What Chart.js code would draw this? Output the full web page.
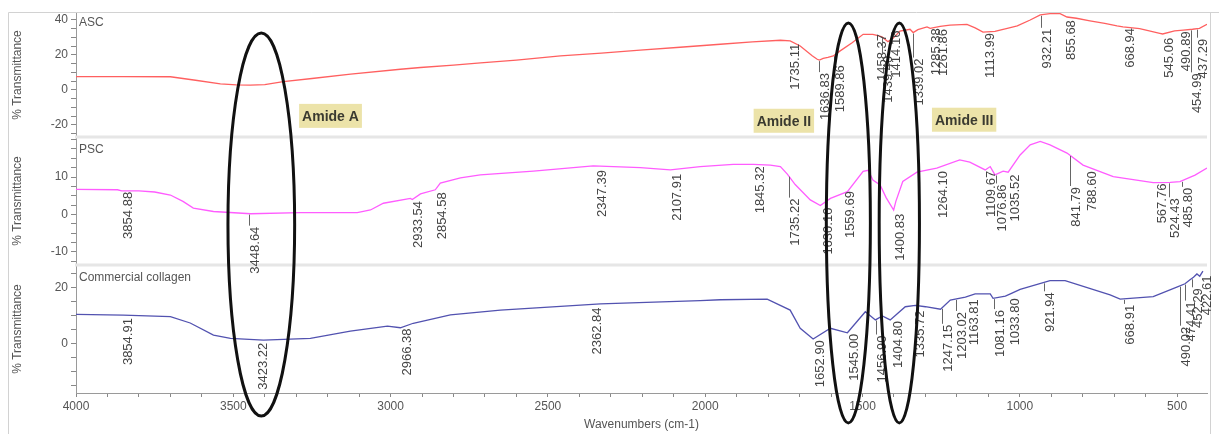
<!DOCTYPE html>
<html>
<head>
<meta charset="utf-8">
<script src="https://cdn.jsdelivr.net/npm/chart.js"></script>
<style>
  html, body { margin: 0; padding: 0; background: #fff; }
</style>
</head>
<body>
<canvas id="espectro" width="1219" height="434"></canvas>
<script>
// ASC
var ascOnda = [4000, 3850, 3700, 3620, 3541, 3490, 3446, 3400, 3341, 3250, 3127, 2969, 2905, 2800, 2714, 2600, 2460, 2330, 2207, 2080, 1952, 1850, 1761, 1730, 1698, 1660, 1644, 1637, 1625, 1610, 1593, 1571, 1533, 1498, 1467, 1451, 1438, 1419, 1403, 1381, 1349, 1339, 1324, 1295, 1285, 1253, 1222, 1168, 1142, 1117, 1079, 1040, 1008, 967, 935, 904, 872, 850, 820, 777, 730, 691, 672, 619, 555, 546, 508, 480, 451, 429, 405];
var ascTrans = [7.6, 7.6, 7.5, 5.5, 3.4, 2.9, 2.7, 3.0, 4.7, 6.5, 9.0, 11.8, 12.8, 14.2, 15.5, 17.0, 19.4, 21.0, 22.7, 24.4, 26.1, 27.5, 28.4, 28.0, 25.1, 19.5, 17.5, 17.0, 18.0, 18.6, 19.4, 22.3, 27.0, 31.8, 31.8, 31.0, 30.3, 27.6, 29.5, 33.7, 34.7, 32.8, 34.5, 36.0, 35.2, 36.3, 37.0, 37.5, 35.5, 33.1, 33.5, 35.2, 36.6, 40.0, 42.9, 43.6, 43.6, 41.7, 41.0, 39.5, 38.0, 36.6, 36.0, 35.0, 32.4, 32.0, 33.8, 34.2, 34.7, 35.2, 37.5];
var ascPicos = [1735.11, 1636.83, 1589.86, 1458.37, 1439.40, 1414.16, 1339.02, 1285.38, 1261.86, 1113.99, 932.21, 855.68, 668.94, 545.06, 490.89, 454.99, 437.29];

// PSC
var pscOnda = [4000, 3868, 3855, 3800, 3750, 3700, 3660, 3627, 3563, 3445, 3287, 3106, 3064, 3023, 2937, 2931, 2905, 2858, 2842, 2778, 2715, 2546, 2356, 2206, 2111, 2016, 1911, 1847, 1793, 1761, 1739, 1714, 1666, 1634, 1602, 1548, 1498, 1482, 1467, 1444, 1425, 1401, 1394, 1372, 1327, 1264, 1191, 1159, 1110, 1094, 1079, 1053, 1037, 999, 967, 935, 904, 850, 799, 703, 576, 522, 491, 443, 405];
var pscTrans = [6.7, 6.6, 6.3, 6.3, 6.0, 5.2, 3.5, 1.7, 0.8, 0.2, 0.5, 0.5, 1.2, 3.0, 4.3, 4.0, 5.5, 6.6, 8.4, 9.8, 10.6, 11.6, 13.0, 12.5, 11.9, 12.8, 13.4, 13.4, 13.2, 12.8, 10.8, 8.0, 3.9, 2.4, 4.3, 6.1, 11.5, 11.8, 9.2, 7.9, 4.5, 1.2, 3.5, 8.8, 11.3, 12.4, 14.6, 14.0, 11.9, 12.8, 10.6, 11.6, 11.3, 15.9, 18.6, 19.5, 18.6, 16.4, 13.2, 10.1, 8.5, 8.6, 8.8, 10.5, 12.4];
var pscPicos = [3854.88, 3448.64, 2933.54, 2854.58, 2347.39, 2107.91, 1845.32, 1735.22, 1630.10, 1559.69, 1400.83, 1264.10, 1109.67, 1076.86, 1035.52, 841.79, 788.60, 567.76, 524.43, 485.80];

// Commercial collagen
var colOnda = [4000, 3850, 3700, 3637, 3563, 3509, 3404, 3255, 3128, 3010, 2969, 2928, 2810, 2651, 2333, 2016, 1952, 1803, 1730, 1698, 1657, 1602, 1548, 1491, 1459, 1437, 1412, 1364, 1332, 1300, 1252, 1221, 1173, 1142, 1094, 1085, 1046, 1030, 999, 904, 856, 713, 681, 576, 497, 475, 459, 448, 437, 428, 418];
var colTrans = [10.6, 10.3, 9.75, 7.5, 3.2, 2.0, 1.4, 2.0, 4.6, 6.4, 5.8, 7.4, 10.4, 12.1, 14.3, 15.5, 15.8, 16.0, 12.1, 5.6, 1.8, 5.6, 4.0, 11.5, 8.6, 10.0, 8.6, 13.3, 13.8, 13.3, 12.4, 15.7, 16.7, 17.9, 17.9, 16.3, 17.1, 17.9, 19.5, 22.6, 22.6, 17.5, 16.0, 16.9, 20.5, 21.5, 22.9, 23.8, 25.0, 24.2, 26.0];
var colPicos = [3854.91, 3423.22, 2966.38, 2362.84, 1652.90, 1545.00, 1456.90, 1404.80, 1335.72, 1247.15, 1203.02, 1163.81, 1081.16, 1033.80, 921.94, 668.91, 490.02, 474.41, 452.29, 422.61];

var paneles = ['ASC', 'PSC', 'Commercial collagen'];
var ejeX = [4000, 3500, 3000, 2500, 2000, 1500, 1000, 500];
var ascEje = [40, 20, 0, -20];
var pscEje = [10, 0, -10];
var colEje = [20, 0];

// how far (px) each peak label sits under the curve
var ascBajada = [3, 13, 10, -1, 19, -10, 26, 0, 2, 1, 14, 4, 1, 4, 1, 44, 10];
var pscBajada = [1, 13, 2, 4, 4, 4, 2, 23, 3, -2, 4, 3, 1, 10, 3, 32, 5, 1, 16, 7];
var colBajada = [3, 3, 1, 3, 2, 2, 16, 3, 5, 17, 13, 3, 12, 4, 10, 6, 41, 18, 10, 2];

// ellipses: centre and half width in cm-1, top on ASC axis, bottom on collagen axis
var elipseCentro = [3411, 1545, 1383];
var elipseMedio = [106, 70, 64];
var elipseArriba = [32.6, 38.3, 38.3];
var elipseAbajo = [-25.7, -28.2, -28.2];

var amideTexto = ['Amide A', 'Amide II', 'Amide III'];
var amideOnda = [3191, 1750, 1177];
var amideValor = [-14.9, -17.7, -17.1];

function puntos(xs, ys) {
  return xs.map(function (x, i) { return { x: x, y: ys[i] }; });
}

function valorEn(xs, ys, x) {
  for (var i = 0; i < xs.length - 1; i++) {
    if (x <= xs[i] && x >= xs[i + 1]) {
      var t = (xs[i] - x) / (xs[i] - xs[i + 1]);
      return ys[i] + t * (ys[i + 1] - ys[i]);
    }
  }
  return ys[ys.length - 1];
}

// tick marks every `paso`, from the first multiple above min
function marcas(s, paso) {
  var t = [];
  for (var v = Math.ceil(s.min / paso) * paso; v <= s.max; v += paso) {
    t.push({ value: Math.round(v * 100) / 100 });
  }
  s.ticks = t;
}

var gris = '#555';
var fuente = { family: '"Liberation Sans", Arial, sans-serif', size: 12 };

function ejeY(min, max, paso, etiquetas, peso) {
  return {
    type: 'linear',
    position: 'left',
    stack: 'paneles',
    stackWeight: peso,
    min: min,
    max: max,
    afterFit: function (s) { s.width = 68; },
    afterBuildTicks: function (s) { marcas(s, paso); },
    border: { display: true, color: '#9a9a9a' },
    grid: { drawOnChartArea: false, drawTicks: true, tickLength: 5, color: '#888' },
    ticks: {
      autoSkip: false,
      padding: 3,
      color: gris,
      font: fuente,
      callback: function (v) { return etiquetas.indexOf(v) >= 0 ? v : ''; }
    },
    title: { display: true, text: '% Transmittance', color: gris, font: fuente, padding: { top: 2, bottom: 0 } }
  };
}

var anotaciones = {
  id: 'anotaciones',
  beforeDatasetsDraw: function (chart) {
    var ctx = chart.ctx, a = chart.chartArea;
    ctx.save();
    ctx.fillStyle = '#e6e6e6';
    [chart.scales.yP.top, chart.scales.yC.top].forEach(function (y) {
      ctx.fillRect(a.left - 1, y - 1.5, a.right - a.left + 1, 3);
    });
    ctx.strokeStyle = '#d2d2d2';
    ctx.lineWidth = 1;
    ctx.beginPath();
    ctx.moveTo(8.5, 434); ctx.lineTo(8.5, 12.5); ctx.lineTo(1219, 12.5);
    ctx.moveTo(1210.5, 12.5); ctx.lineTo(1210.5, 434);
    ctx.stroke();
    ctx.restore();
  },
  afterDatasetsDraw: function (chart) {
    var ctx = chart.ctx, x = chart.scales.x;
    var grupos = [
      { eje: chart.scales.yA, xs: ascOnda, ys: ascTrans, picos: ascPicos, baja: ascBajada },
      { eje: chart.scales.yP, xs: pscOnda, ys: pscTrans, picos: pscPicos, baja: pscBajada },
      { eje: chart.scales.yC, xs: colOnda, ys: colTrans, picos: colPicos, baja: colBajada }
    ];
    ctx.save();

    // panel names
    ctx.font = '12px "Liberation Sans", Arial, sans-serif';
    ctx.fillStyle = gris;
    ctx.textBaseline = 'middle';
    grupos.forEach(function (g, i) {
      ctx.fillText(paneles[i], chart.chartArea.left + 3, g.eje.top + (i === 0 ? 10 : 13));
    });

    // peak labels
    ctx.font = '13px "Liberation Sans", Arial, sans-serif';
    ctx.fillStyle = '#444';
    ctx.strokeStyle = '#666';
    ctx.lineWidth = 1;
    grupos.forEach(function (g) {
      g.picos.forEach(function (p, i) {
        var px = Math.round(x.getPixelForValue(p)) + 0.5;
        var py = g.eje.getPixelForValue(valorEn(g.xs, g.ys, p));
        var fin = py + g.baja[i];
        if (g.baja[i] > 5) {
          ctx.beginPath();
          ctx.moveTo(px, py + 1);
          ctx.lineTo(px, fin - 1);
          ctx.stroke();
        }
        ctx.save();
        ctx.translate(px + 6, fin);
        ctx.rotate(-Math.PI / 2);
        ctx.textAlign = 'right';
        ctx.textBaseline = 'middle';
        ctx.fillText(p.toFixed(2), 0, 0);
        ctx.restore();
      });
    });

    // amide labels
    ctx.font = 'bold 14px "Liberation Sans", Arial, sans-serif';
    ctx.textAlign = 'center';
    ctx.textBaseline = 'middle';
    amideTexto.forEach(function (t, i) {
      var cx = x.getPixelForValue(amideOnda[i]);
      var cy = chart.scales.yA.getPixelForValue(amideValor[i]);
      var w = ctx.measureText(t).width + 6;
      ctx.fillStyle = '#ece3a9';
      ctx.fillRect(cx - w / 2, cy - 12, w, 24);
      ctx.fillStyle = '#3a3a30';
      ctx.fillText(t, cx, cy + 1);
    });

    // ellipses
    ctx.strokeStyle = '#111';
    ctx.lineWidth = 3;
    elipseCentro.forEach(function (c, i) {
      var cx = x.getPixelForValue(c);
      var rx = Math.abs(x.getPixelForValue(c - elipseMedio[i]) - cx);
      var top = chart.scales.yA.getPixelForValue(elipseArriba[i]);
      var bot = chart.scales.yC.getPixelForValue(elipseAbajo[i]);
      ctx.beginPath();
      ctx.ellipse(cx, (top + bot) / 2, rx, (bot - top) / 2, 0, 0, Math.PI * 2);
      ctx.stroke();
    });
    ctx.restore();
  }
};

var ctx = document.getElementById('espectro').getContext('2d');
var chart = new Chart(ctx, {
  type: 'line',
  data: {
    datasets: [
      { label: paneles[2], data: puntos(colOnda, colTrans), yAxisID: 'yC', borderColor: '#5252b0', borderWidth: 1.3 },
      { label: paneles[1], data: puntos(pscOnda, pscTrans), yAxisID: 'yP', borderColor: '#ff5cff', borderWidth: 1.3 },
      { label: paneles[0], data: puntos(ascOnda, ascTrans), yAxisID: 'yA', borderColor: '#ff6060', borderWidth: 1.3 }
    ]
  },
  options: {
    responsive: false,
    animation: false,
    events: [],
    elements: { point: { radius: 0 }, line: { tension: 0 } },
    layout: { padding: { left: 8, right: 12, top: 13, bottom: 0 } },
    plugins: { legend: { display: false }, tooltip: { enabled: false } },
    scales: {
      x: {
        type: 'linear',
        reverse: true,
        min: 405,
        max: 4000,
        afterFit: function (s) { s.height = 41; },
        afterBuildTicks: function (s) { marcas(s, 100); },
        border: { display: true, color: '#9a9a9a' },
        grid: { drawOnChartArea: false, drawTicks: true, tickLength: 4, color: '#888' },
        ticks: {
          maxRotation: 0,
          autoSkip: false,
          padding: 2,
          color: gris,
          font: fuente,
          callback: function (v) { return ejeX.indexOf(v) >= 0 ? v : ''; }
        },
        title: { display: true, text: 'Wavenumbers (cm-1)', color: gris, font: fuente, padding: { top: 0, bottom: 2 } }
      },
      yC: ejeY(-17.5, 28.2, 5, colEje, 128),
      yP: ejeY(-13.5, 20.7, 2.5, pscEje, 128),
      yA: ejeY(-27, 44, 5, ascEje, 124)
    }
  },
  plugins: [anotaciones]
});
</script>
</body>
</html>
